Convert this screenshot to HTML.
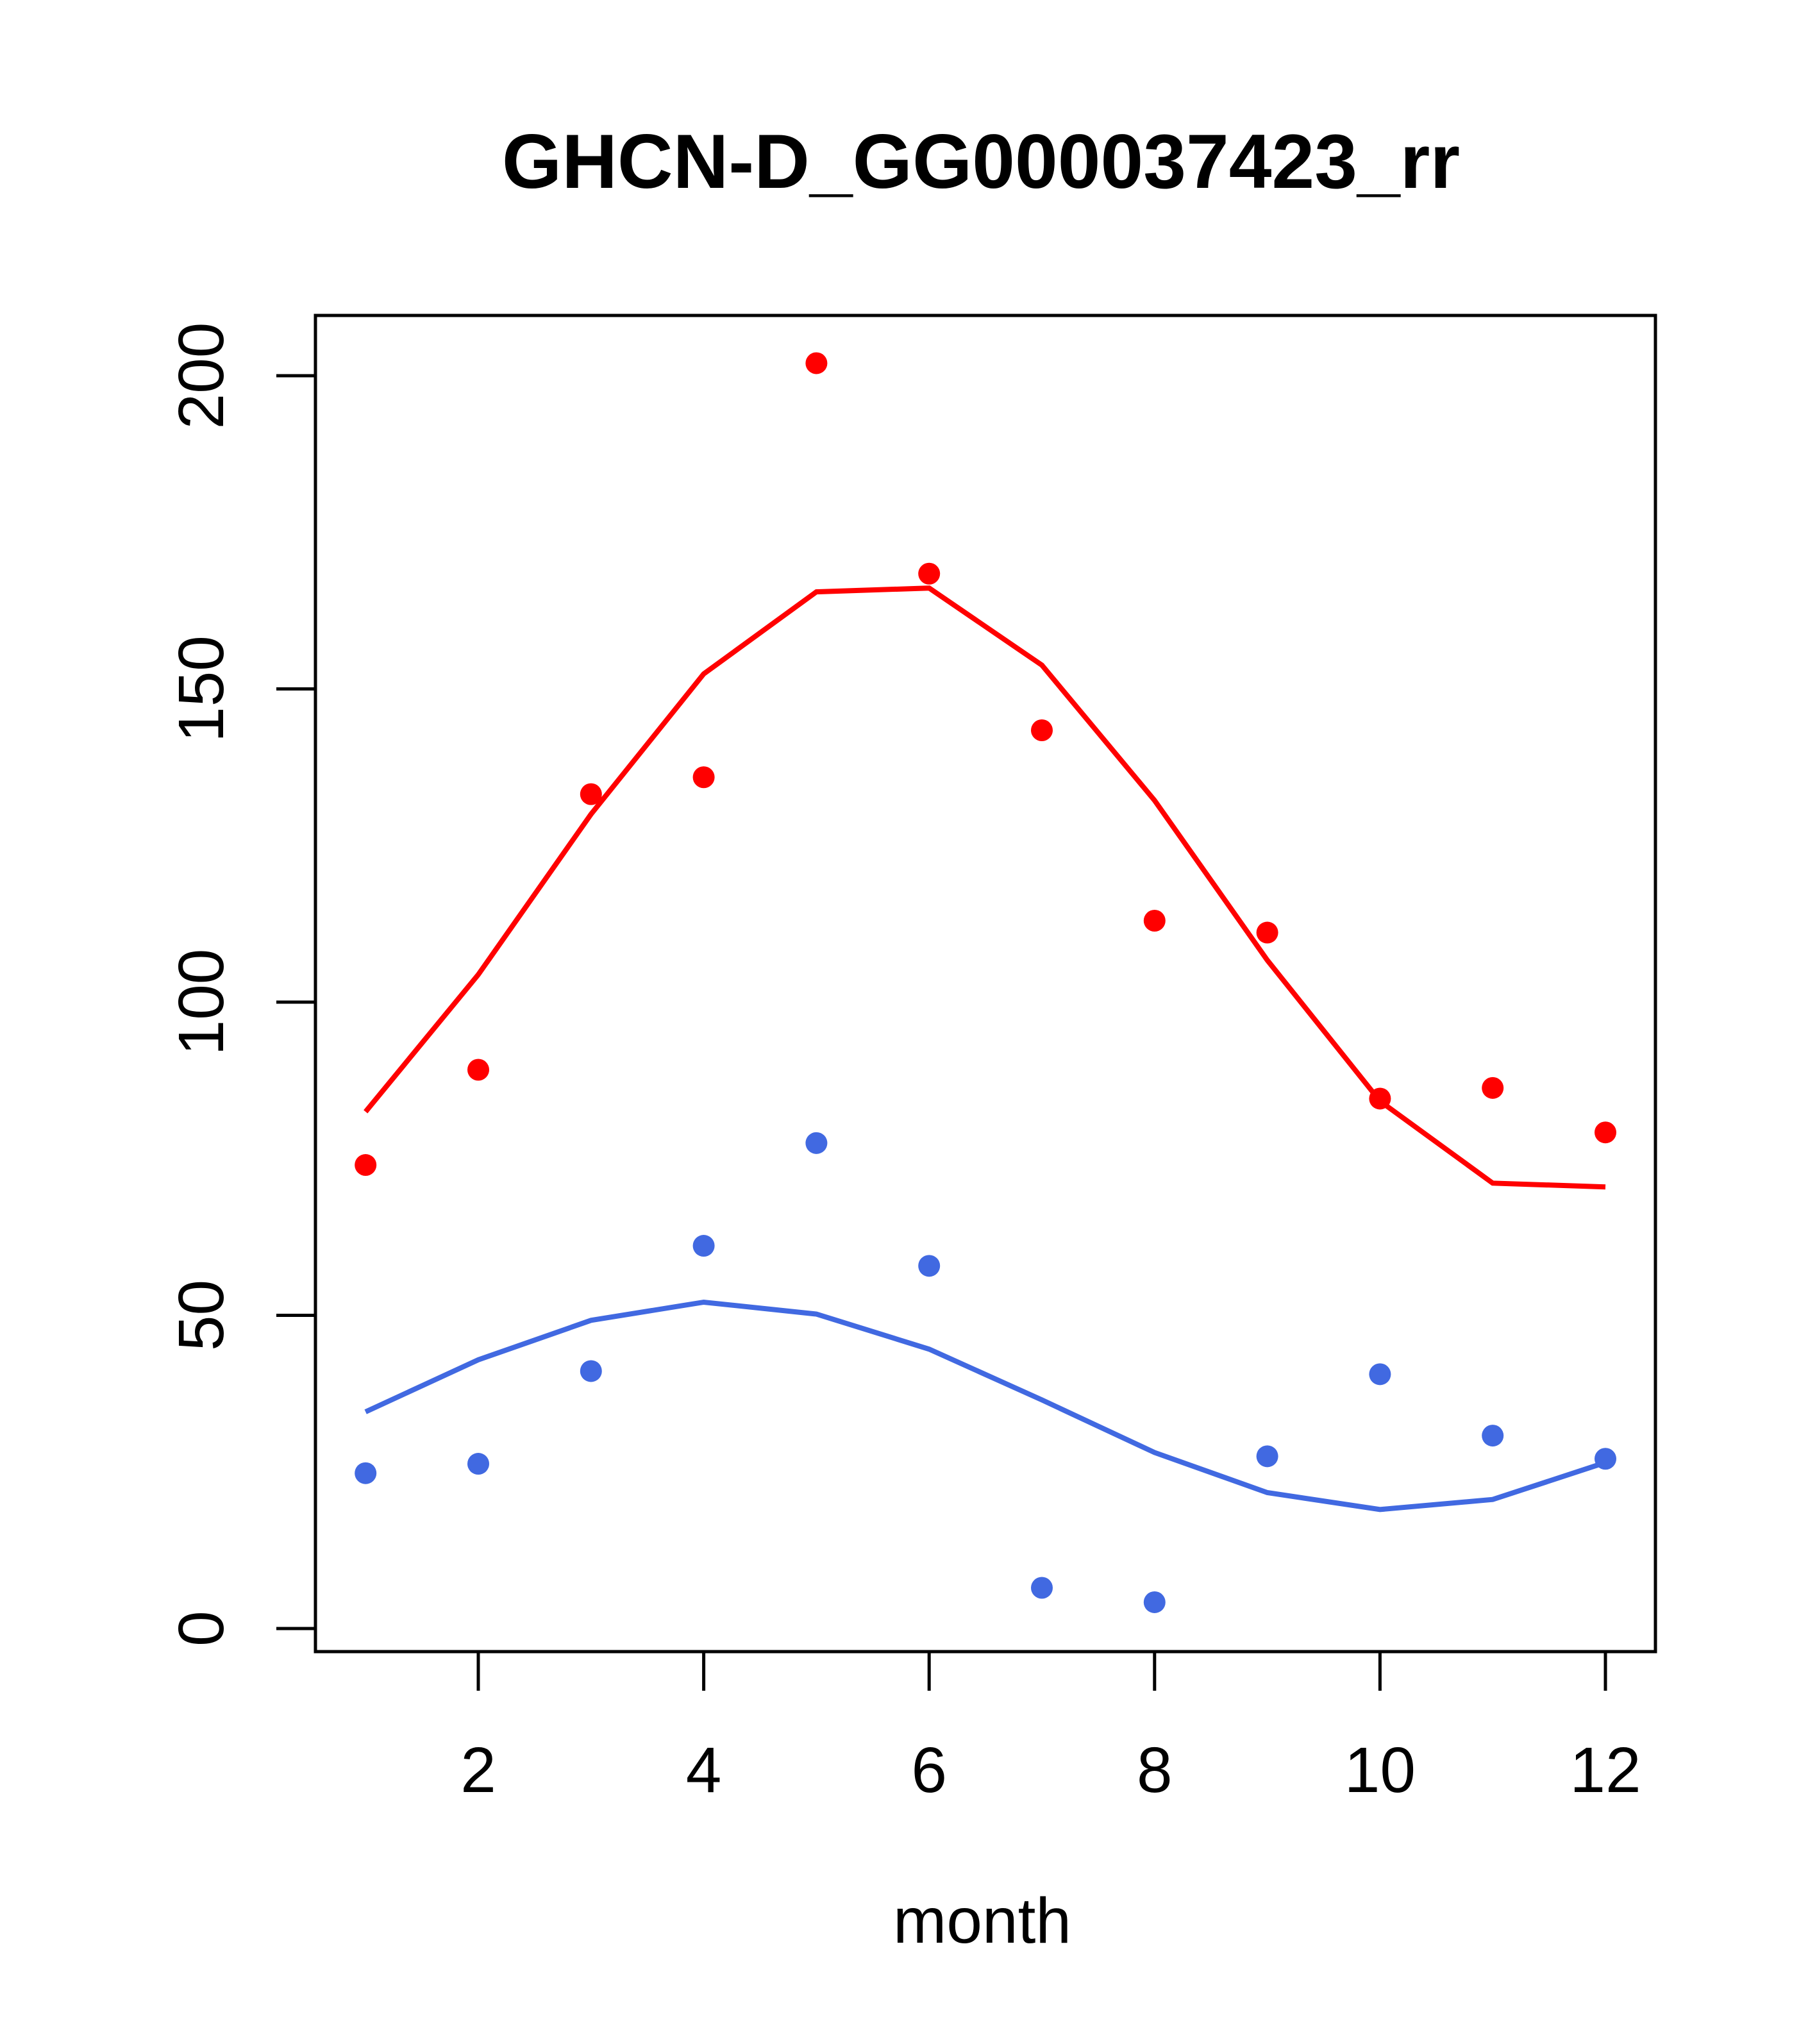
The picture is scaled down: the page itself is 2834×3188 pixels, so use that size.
<!DOCTYPE html>
<html><head><meta charset="utf-8"><style>html,body{margin:0;padding:0;background:#fff}svg{display:block}</style></head>
<body>
<svg id="chart" width="2834" height="3188" xmlns="http://www.w3.org/2000/svg" font-family="Liberation Sans, sans-serif">
<rect width="2834" height="3188" fill="#fff"/>
<text x="1530" y="293" font-size="120" font-weight="bold" text-anchor="middle">GHCN-D_GG000037423_rr</text>
<text x="1532" y="3030" font-size="100" text-anchor="middle">month</text>
<g id="axes"></g>
<g id="marks"></g>
<rect x="492" y="492" width="2090" height="2084" fill="none" stroke="#000" stroke-width="5"/>
</svg>
<script>
const months=[1,2,3,4,5,6,7,8,9,10,11,12];
const redPoints=[74.0,89.2,133.2,135.9,202,168.4,143.4,113,111.1,84.6,86.3,79.2];
const redLine=[82.5,104.4,130,152.4,165.5,166.1,153.8,132.2,106.7,84.2,71.1,70.5];
const bluePoints=[24.8,26.3,41.1,61.1,77.5,57.9,6.5,4.2,27.5,40.6,30.8,27.1];
const blueLine=[34.6,42.9,49.2,52.1,50.2,44.6,36.5,28.1,21.7,19,20.6,26.5];
const xTicks=[2,4,6,8,10,12];
const yTicks=[0,50,100,150,200];
const NS='http://www.w3.org/2000/svg';
function xs(m){return 746+(m-2)*175.8;}
function ys(v){return 2540-v*(2540-586)/200;}
function mk(t,a,p){const e=document.createElementNS(NS,t);for(const k in a)e.setAttribute(k,a[k]);p.appendChild(e);return e;}
const ax=document.getElementById('axes'),mg=document.getElementById('marks');
xTicks.forEach(t=>{
 const l=mk('line',{x1:xs(t),x2:xs(t),y1:2576,y2:2637,stroke:'#000','stroke-width':5},ax);
 
 
 const tx=mk('text',{x:xs(t),y:2795,'font-size':100,'text-anchor':'middle'},ax);tx.textContent=t;
 
 
});
yTicks.forEach(t=>{
 const l=mk('line',{x1:431,x2:492,y1:ys(t),y2:ys(t),stroke:'#000','stroke-width':5},ax);
 
 
 const tx=mk('text',{x:0,y:0,'font-size':100,'text-anchor':'middle',transform:`translate(348,${ys(t)}) rotate(-90)`},ax);tx.textContent=t;
 
 
});
function line(vals,col,name){
 const p=mk('polyline',{points:months.map((m,i)=>xs(m)+','+ys(vals[i])).join(' '),fill:'none',stroke:col,'stroke-width':8},mg);
 
 
}
function pts(vals,col,name){
 months.forEach((m,i)=>{const c=mk('circle',{cx:xs(m),cy:ys(vals[i]),r:17,fill:col},mg);
 
 });
}
line(redLine,'#ff0000','red-smooth-line');
line(blueLine,'#4169e1','blue-smooth-line');
pts(redPoints,'#ff0000','red-point');
pts(bluePoints,'#4169e1','blue-point');
</script>
</body></html>
